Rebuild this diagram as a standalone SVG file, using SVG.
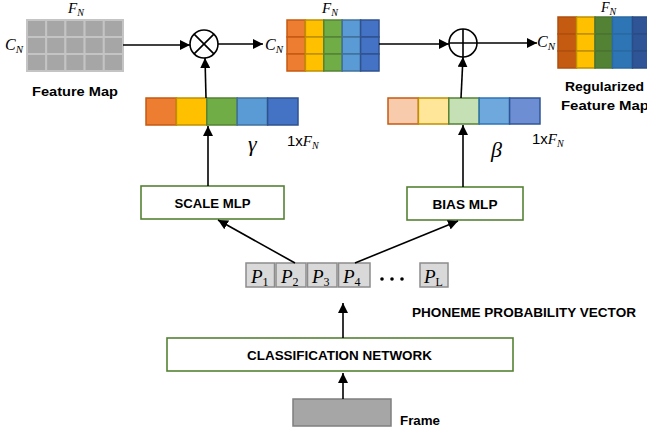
<svg xmlns="http://www.w3.org/2000/svg" width="647" height="434" viewBox="0 0 647 434">
<defs>
<marker id="ah" viewBox="0 0 10 10" refX="10" refY="5" markerWidth="10" markerHeight="10" markerUnits="userSpaceOnUse" orient="auto">
<path d="M0,0 L10,5 L0,10 Z" fill="#000"/>
</marker>
<style>
.lbl{font-family:"Liberation Sans",Arial,sans-serif;font-weight:bold;font-size:13.5px;fill:#000}
.m{font-family:"Liberation Serif","Times New Roman",serif;font-style:italic;fill:#000}
.up{font-style:normal}
.con{stroke:#000;stroke-width:1.6;fill:none;marker-end:url(#ah)}
.box{fill:#fff;stroke:#548235;stroke-width:1.6}
.gc{fill:#A6A6A6;stroke:#C4C4C4;stroke-width:2}
.pc{fill:#D9D9D9;stroke:#8C8C8C;stroke-width:1.5}
.c1{fill:#ED7D31;stroke:#C55A11}
.c2{fill:#FFC000;stroke:#BF9000}
.c3{fill:#70AD47;stroke:#548235}
.c4{fill:#5B9BD5;stroke:#41719C}
.c5{fill:#4472C4;stroke:#2F528F}
.b1{fill:#F8CBAD;stroke:#C55A11}
.b2{fill:#FFE699;stroke:#BF9000}
.b3{fill:#C5E0B4;stroke:#548235}
.b4{fill:#6FA8DC;stroke:#2E75B6}
.b5{fill:#6D8ED2;stroke:#2F5597}
.r1{fill:#C55A11;stroke:#B04F0E}
.r2{fill:#FFC000;stroke:#BF9000}
.r3{fill:#548235;stroke:#4A7430}
.r4{fill:#2E75B6;stroke:#2A69A3}
.r5{fill:#2F5597;stroke:#2A4C87}
.cell{stroke-width:1.5}
</style>
</defs>

<!-- Feature map (gray) -->
<g id="feature-map">
<g class="gc">
<rect x="27" y="20" width="19.2" height="17"/><rect x="46.2" y="20" width="19.2" height="17"/><rect x="65.4" y="20" width="19.2" height="17"/><rect x="84.6" y="20" width="19.2" height="17"/><rect x="103.8" y="20" width="19.2" height="17"/>
<rect x="27" y="37" width="19.2" height="17"/><rect x="46.2" y="37" width="19.2" height="17"/><rect x="65.4" y="37" width="19.2" height="17"/><rect x="84.6" y="37" width="19.2" height="17"/><rect x="103.8" y="37" width="19.2" height="17"/>
<rect x="27" y="54" width="19.2" height="17"/><rect x="46.2" y="54" width="19.2" height="17"/><rect x="65.4" y="54" width="19.2" height="17"/><rect x="84.6" y="54" width="19.2" height="17"/><rect x="103.8" y="54" width="19.2" height="17"/>
</g>
<text class="m" x="68" y="13" font-size="15">F<tspan font-size="10" dy="3">N</tspan></text>
<text class="m" x="5" y="50" font-size="16">C<tspan font-size="11" dy="3">N</tspan></text>
<text class="lbl" x="75" y="96" text-anchor="middle" textLength="86" lengthAdjust="spacingAndGlyphs">Feature Map</text>
</g>

<!-- Multiply -->
<g id="mult">
<circle cx="204" cy="44" r="14" fill="#fff" stroke="#000" stroke-width="1.6"/>
<path d="M194.1,34.1 L213.9,53.9 M213.9,34.1 L194.1,53.9" stroke="#000" stroke-width="1.6"/>
</g>

<!-- Scaled feature map -->
<g id="scaled-map" class="cell">
<rect class="c1" x="287" y="20" width="18.4" height="17"/><rect class="c2" x="305.4" y="20" width="18.4" height="17"/><rect class="c3" x="323.8" y="20" width="18.4" height="17"/><rect class="c4" x="342.2" y="20" width="18.4" height="17"/><rect class="c5" x="360.6" y="20" width="18.4" height="17"/>
<rect class="c1" x="287" y="37" width="18.4" height="17"/><rect class="c2" x="305.4" y="37" width="18.4" height="17"/><rect class="c3" x="323.8" y="37" width="18.4" height="17"/><rect class="c4" x="342.2" y="37" width="18.4" height="17"/><rect class="c5" x="360.6" y="37" width="18.4" height="17"/>
<rect class="c1" x="287" y="54" width="18.4" height="17"/><rect class="c2" x="305.4" y="54" width="18.4" height="17"/><rect class="c3" x="323.8" y="54" width="18.4" height="17"/><rect class="c4" x="342.2" y="54" width="18.4" height="17"/><rect class="c5" x="360.6" y="54" width="18.4" height="17"/>
<text class="m" x="322" y="13" font-size="15">F<tspan font-size="10" dy="3">N</tspan></text>
<text class="m" x="265" y="50" font-size="16">C<tspan font-size="11" dy="3">N</tspan></text>
</g>

<!-- Add -->
<g id="add">
<circle cx="463" cy="43" r="14" fill="#fff" stroke="#000" stroke-width="1.6"/>
<path d="M449,43 L477,43 M463,29 L463,57" stroke="#000" stroke-width="1.6"/>
</g>

<!-- Regularized feature map -->
<g id="regularized-map" class="cell">
<rect class="r1" x="558" y="17" width="18.5" height="17"/><rect class="r2" x="576.5" y="17" width="18.5" height="17"/><rect class="r3" x="595" y="17" width="17.5" height="17"/><rect class="r4" x="612.5" y="17" width="20" height="17"/><rect class="r5" x="632.5" y="17" width="18" height="17"/>
<rect class="r1" x="558" y="34" width="18.5" height="17"/><rect class="r2" x="576.5" y="34" width="18.5" height="17"/><rect class="r3" x="595" y="34" width="17.5" height="17"/><rect class="r4" x="612.5" y="34" width="20" height="17"/><rect class="r5" x="632.5" y="34" width="18" height="17"/>
<rect class="r1" x="558" y="51" width="18.5" height="17"/><rect class="r2" x="576.5" y="51" width="18.5" height="17"/><rect class="r3" x="595" y="51" width="17.5" height="17"/><rect class="r4" x="612.5" y="51" width="20" height="17"/><rect class="r5" x="632.5" y="51" width="18" height="17"/>
<text class="m" x="601" y="12" font-size="14">F<tspan font-size="10" dy="3">N</tspan></text>
<text class="m" x="537" y="47" font-size="16">C<tspan font-size="11" dy="3">N</tspan></text>
<text class="lbl" x="565" y="91" textLength="79" lengthAdjust="spacingAndGlyphs">Regularized</text>
<text class="lbl" x="561" y="110" textLength="88" lengthAdjust="spacingAndGlyphs">Feature Map</text>
</g>

<!-- Gamma vector -->
<g id="gamma" class="cell">
<rect class="c1" x="146" y="98" width="30.4" height="27"/><rect class="c2" x="176.4" y="98" width="30.4" height="27"/><rect class="c3" x="206.8" y="98" width="30.4" height="27"/><rect class="c4" x="237.2" y="98" width="30.4" height="27"/><rect class="c5" x="267.6" y="98" width="30.4" height="27"/>
<text class="m" x="248" y="151" font-size="22">γ</text>
<text class="m" x="287" y="146" font-size="15"><tspan class="up" font-family="Liberation Sans, Arial, sans-serif">1x</tspan>F<tspan font-size="10" dy="3">N</tspan></text>
</g>

<!-- Beta vector -->
<g id="beta" class="cell">
<rect class="b1" x="388" y="98" width="30.4" height="26"/><rect class="b2" x="418.4" y="98" width="30.4" height="26"/><rect class="b3" x="448.8" y="98" width="30.4" height="26"/><rect class="b4" x="479.2" y="98" width="30.4" height="26"/><rect class="b5" x="509.6" y="98" width="30.4" height="26"/>
<text class="m" x="491" y="157" font-size="22">β</text>
<text class="m" x="532" y="144" font-size="15"><tspan class="up" font-family="Liberation Sans, Arial, sans-serif">1x</tspan>F<tspan font-size="10" dy="3">N</tspan></text>
</g>

<!-- MLPs -->
<g id="scale-mlp">
<rect class="box" x="141" y="186" width="143" height="33"/>
<text class="lbl" x="212.5" y="207.5" text-anchor="middle" textLength="76" lengthAdjust="spacingAndGlyphs">SCALE MLP</text>
</g>
<g id="bias-mlp">
<rect class="box" x="407" y="187" width="116" height="33"/>
<text class="lbl" x="465" y="208.5" text-anchor="middle" textLength="65" lengthAdjust="spacingAndGlyphs">BIAS MLP</text>
</g>

<!-- Phoneme probability vector -->
<g id="phoneme-vector">
<rect class="pc" x="246" y="263" width="28.5" height="24"/>
<rect class="pc" x="276" y="263" width="30" height="24"/>
<rect class="pc" x="307.5" y="263" width="29.5" height="24"/>
<rect class="pc" x="338.5" y="263" width="31.5" height="24"/>
<rect class="pc" x="420" y="263" width="28" height="24"/>
<text class="m" x="251" y="283" font-size="19">P<tspan class="up" font-size="12" dy="3">1</tspan></text>
<text class="m" x="281" y="283" font-size="19">P<tspan class="up" font-size="12" dy="3">2</tspan></text>
<text class="m" x="312" y="283" font-size="19">P<tspan class="up" font-size="12" dy="3">3</tspan></text>
<text class="m" x="343" y="283" font-size="19">P<tspan class="up" font-size="12" dy="3">4</tspan></text>
<text class="m" x="424" y="283" font-size="19">P<tspan class="up" font-size="12" dy="3">L</tspan></text>
<circle cx="382" cy="279" r="1.8"/><circle cx="392" cy="279" r="1.8"/><circle cx="402" cy="279" r="1.8"/>
<text class="lbl" x="412" y="317" textLength="224" lengthAdjust="spacingAndGlyphs">PHONEME PROBABILITY  VECTOR</text>
</g>

<!-- Classification network -->
<g id="classification">
<rect class="box" x="167" y="338" width="346" height="33"/>
<text class="lbl" x="247" y="360" textLength="185" lengthAdjust="spacingAndGlyphs">CLASSIFICATION  NETWORK</text>
</g>

<!-- Frame -->
<g id="frame">
<rect x="293" y="399" width="98" height="27" fill="#A6A6A6" stroke="#7F7F7F" stroke-width="1.5"/>
<text class="lbl" x="400" y="425" textLength="40" lengthAdjust="spacingAndGlyphs">Frame</text>
</g>

<!-- Connectors -->
<g id="connectors">
<path class="con" d="M123,45 L190,45"/>
<path class="con" d="M218,44 L263,44"/>
<path class="con" d="M379,44 L449,44"/>
<path class="con" d="M477,43 L537,43"/>
<path class="con" d="M206,98 L205,58"/>
<path class="con" d="M208,186 L208,126"/>
<path class="con" d="M461,98 L463,57"/>
<path class="con" d="M463,187 L463,125"/>
<path class="con" d="M295,263 L218,220"/>
<path class="con" d="M355,263 L458,221"/>
<path class="con" d="M343,338 L343,303"/>
<path class="con" d="M343,399 L343,373"/>
</g>
</svg>
